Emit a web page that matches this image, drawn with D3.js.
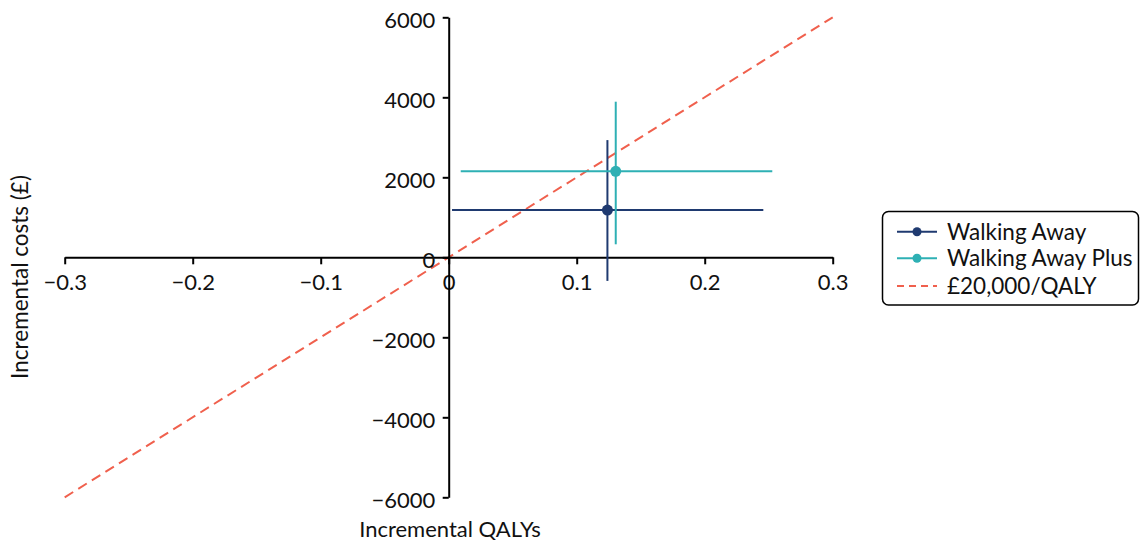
<!DOCTYPE html>
<html><head><meta charset="utf-8">
<script src="https://cdn.jsdelivr.net/npm/d3@7"></script>
<style>
body{margin:0;background:#fff;}
text{font-family:Lato,"Open Sans",sans-serif;fill:#111;}
</style></head><body>
<svg id="c" width="1148" height="542"></svg>
<script>
const seriesNames = ["Walking Away", "Walking Away Plus"];
const seriesColors = ["#1f3a70", "#2eb0b4"];
const pointQaly = [0.124, 0.1305];
const pointCost = [1180, 2150];
const qalyLow = [0.0026, 0.0094];
const qalyHigh = [0.2458, 0.2528];
const costLow = [-590, 325];
const costHigh = [2930, 3890];
const xTicks = [-0.3, -0.2, -0.1, 0, 0.1, 0.2, 0.3];
const yTicks = [-6000, -4000, -2000, 0, 2000, 4000, 6000];
const wtp = 20000;
const wtpLabel = "£20,000/QALY";
const xTitle = "Incremental QALYs";
const yTitle = "Incremental costs (£)";

const svg = d3.select("#c");
const x = d3.scaleLinear().domain([-0.3, 0.3]).range([64.7, 832.7]);
const y = d3.scaleLinear().domain([-6000, 6000]).range([497.3, 17.3]);
const fs = 22;
const lfs = 22.5;

// reference line
svg.append("line")
  .attr("x1", x(-0.3)).attr("y1", y(-0.3 * wtp))
  .attr("x2", x(0.3)).attr("y2", y(0.3 * wtp))
  .attr("stroke", "#f0604d").attr("stroke-width", 2).attr("stroke-dasharray", "10,6");

// x axis
const xAxis = d3.axisBottom(x).tickValues(xTicks).tickSize(7).tickSizeOuter(0)
  .tickFormat(d => d === 0 ? "0" : d3.format(".1f")(d).replace("-", "\u2212"));
const gx = svg.append("g").attr("transform", `translate(0,${y(0)})`).call(xAxis);
gx.select(".domain").attr("stroke", "#000").attr("stroke-width", 2);
gx.selectAll(".tick line").attr("stroke", "#000").attr("stroke-width", 2);
gx.selectAll(".tick text").attr("font-size", fs).attr("font-family", "Lato").attr("fill", "#111")
  .attr("dy", 0).attr("y", 33);

// y axis
const yAxis = d3.axisLeft(y).tickValues(yTicks).tickSize(6).tickSizeOuter(0)
  .tickFormat(d => String(d).replace("-", "\u2212"));
const gy = svg.append("g").attr("transform", `translate(${x(0)},0)`).call(yAxis);
gy.select(".domain").attr("stroke", "#000").attr("stroke-width", 2);
gy.selectAll(".tick line").attr("stroke", "#000").attr("stroke-width", 2);
gy.selectAll(".tick text").attr("font-size", fs).attr("font-family", "Lato").attr("fill", "#111")
  .attr("x", -13.5).attr("dy", 10.5);

// error bars and points
seriesNames.forEach((n, i) => {
  const g = svg.append("g");
  g.append("line").attr("x1", x(qalyLow[i])).attr("x2", x(qalyHigh[i]))
    .attr("y1", y(pointCost[i])).attr("y2", y(pointCost[i]))
    .attr("stroke", seriesColors[i]).attr("stroke-width", 2);
  g.append("line").attr("x1", x(pointQaly[i])).attr("x2", x(pointQaly[i]))
    .attr("y1", y(costLow[i])).attr("y2", y(costHigh[i]))
    .attr("stroke", seriesColors[i]).attr("stroke-width", 2);
  g.append("circle").attr("cx", x(pointQaly[i])).attr("cy", y(pointCost[i])).attr("r", 5.5)
    .attr("fill", seriesColors[i]);
});

// axis titles
svg.append("text").attr("x", 450).attr("y", 537).attr("text-anchor", "middle")
  .attr("font-size", fs).text(xTitle);
svg.append("text").attr("transform", "translate(28,277) rotate(-90)").attr("text-anchor", "middle")
  .attr("font-size", 22.5).text(yTitle);

// legend
const lg = svg.append("g");
lg.append("rect").attr("x", 882.5).attr("y", 211.5).attr("width", 256).attr("height", 93.5)
  .attr("rx", 6).attr("fill", "#fff").attr("stroke", "#000").attr("stroke-width", 1.5);
const rows = [231.7, 258.3, 286];
seriesNames.forEach((n, i) => {
  lg.append("line").attr("x1", 897).attr("x2", 937).attr("y1", rows[i]).attr("y2", rows[i])
    .attr("stroke", seriesColors[i]).attr("stroke-width", 2);
  lg.append("circle").attr("cx", 917).attr("cy", rows[i]).attr("r", 4.5).attr("fill", seriesColors[i]);
  lg.append("text").attr("x", 947).attr("y", rows[i]).attr("dy", "0.35em").attr("font-size", lfs).text(n);
});
lg.append("line").attr("x1", 897).attr("x2", 937).attr("y1", rows[2]).attr("y2", rows[2])
  .attr("stroke", "#f0604d").attr("stroke-width", 2).attr("stroke-dasharray", "7,5");
lg.append("text").attr("x", 947).attr("y", rows[2]).attr("dy", "0.35em").attr("font-size", lfs).text(wtpLabel);
</script></body></html>
